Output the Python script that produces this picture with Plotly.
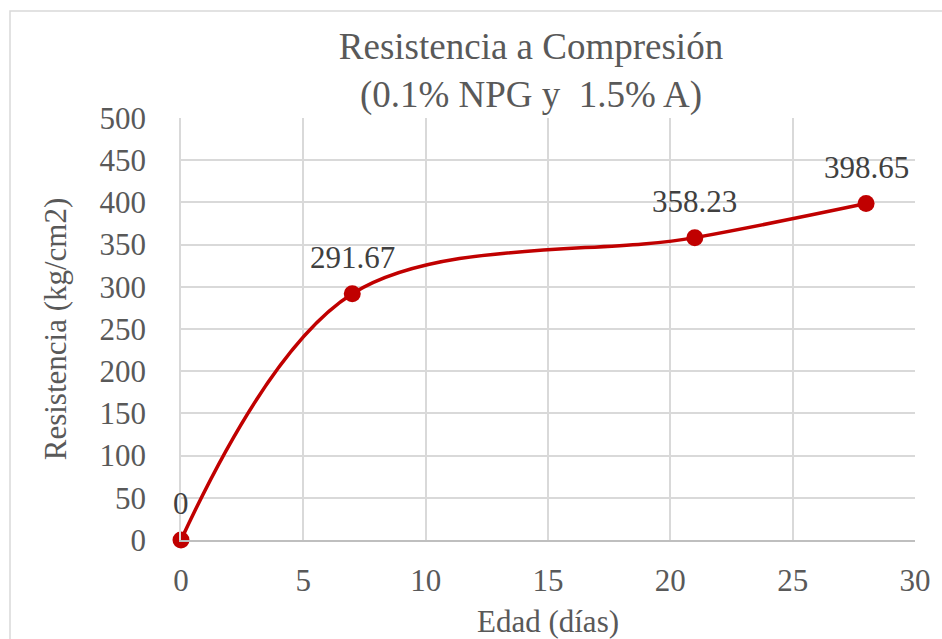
import plotly.graph_objects as go

edad = [0, 7, 21, 28]
resistencia = [0, 291.67, 358.23, 398.65]
etiquetas = ["0", "291.67", "358.23", "398.65"]
x_ticks = [0, 5, 10, 15, 20, 25, 30]
y_ticks = [0, 50, 100, 150, 200, 250, 300, 350, 400, 450, 500]

FONT = "Liberation Serif, Times New Roman, serif"
GRAY = "#595959"
RED = "#C00000"

fig = go.Figure()
fig.add_trace(go.Scatter(
    x=edad, y=resistencia, mode="lines+markers",
    line=dict(color=RED, width=3.5, shape="spline", smoothing=1.0),
    marker=dict(color=RED, size=17),
    cliponaxis=False, showlegend=False,
))

for xv, yv, t in zip(edad, resistencia, etiquetas):
    fig.add_annotation(
        x=xv, y=yv, text=t, showarrow=False,
        xanchor="center", yanchor="bottom", yshift=17,
        font=dict(family=FONT, size=31, color="#404040"),
    )

L, R, T, B = 181, 27, 118, 99
W, H = 942, 639
pw, ph = W - L - R, H - T - B

fig.update_layout(
    width=W, height=H,
    margin=dict(l=L, r=R, t=T, b=B, autoexpand=False),
    paper_bgcolor="white", plot_bgcolor="white",
    font=dict(family=FONT, color=GRAY),
    title=dict(
        text="Resistencia a Compresión<br>(0.1% NPG y  1.5% A)",
        font=dict(family=FONT, size=37, color=GRAY),
        x=(531 - L) / pw, xref="paper", xanchor="center",
        y=1 - 59 / H, yanchor="middle", automargin=False,
    ),
    xaxis=dict(
        range=[0, 30], tickvals=x_ticks, ticktext=[str(v) for v in x_ticks],
        showgrid=True, gridcolor="#d9d9d9", gridwidth=1.5,
        showline=True, linecolor="#bfbfbf", linewidth=1.5,
        zeroline=False, ticks="", ticklabelstandoff=12, automargin=False,
        tickfont=dict(family=FONT, size=31, color=GRAY),
        title=dict(text="Edad (días)", font=dict(family=FONT, size=31, color=GRAY), standoff=13),
    ),
    yaxis=dict(
        range=[0, 500], tickvals=y_ticks, ticktext=[str(v) for v in y_ticks],
        showgrid=True, gridcolor="#d9d9d9", gridwidth=1.5,
        showline=True, linecolor="#d9d9d9", linewidth=1.5,
        zeroline=False, ticks="", ticklabelstandoff=27, automargin=False,
        tickfont=dict(family=FONT, size=31, color=GRAY),
        title=dict(text="Resistencia (kg/cm2)", font=dict(family=FONT, size=31, color=GRAY), standoff=24),
    ),
)

# outer chart border (partially cropped at right and bottom)
fig.add_shape(
    type="rect", xref="paper", yref="paper",
    x0=(10 - L) / pw, x1=(W + 5 - L) / pw,
    y0=(H - B - (H + 5)) / ph, y1=(H - B - 11) / ph,
    line=dict(color="#d9d9d9", width=1.5), fillcolor="rgba(0,0,0,0)", layer="below",
)

fig.write_html("out.html")
